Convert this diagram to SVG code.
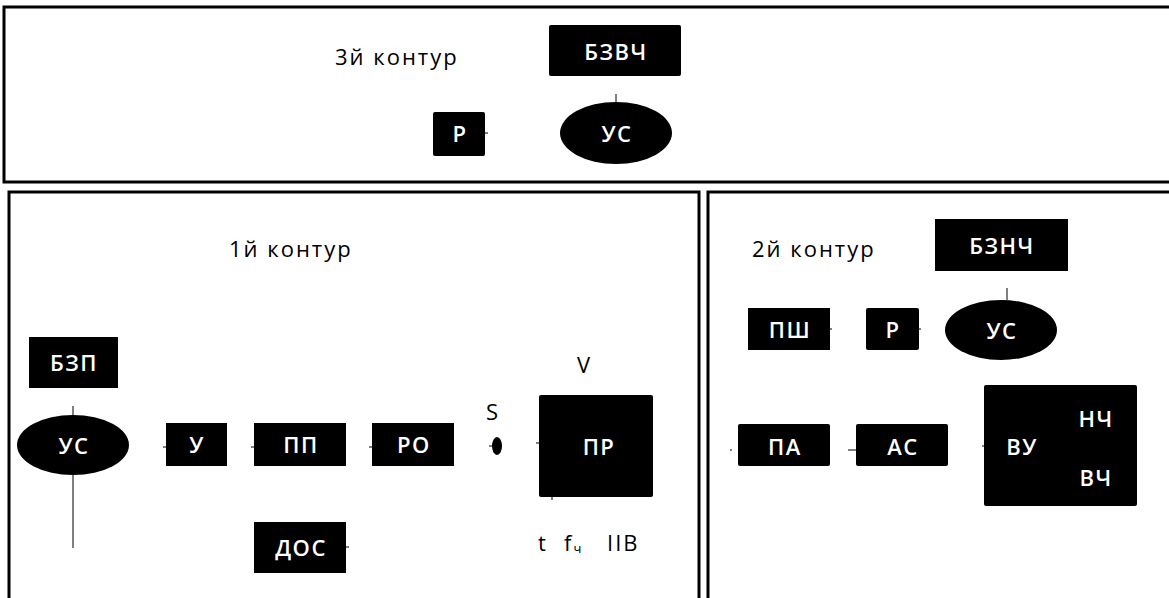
<svg xmlns="http://www.w3.org/2000/svg" width="1169" height="598" viewBox="0 0 1169 598">
<style>
.panel{fill:none;stroke:#000;stroke-width:3}
.blk{fill:#000}
.lbl{font-family:"Open Sans","DejaVu Sans",sans-serif;font-size:22px;font-weight:600;letter-spacing:1.5px;fill:#fff;text-anchor:middle;dominant-baseline:central}
.cap{font-family:"Open Sans","DejaVu Sans",sans-serif;font-size:22px;letter-spacing:2px;fill:#000;dominant-baseline:central}
.con{stroke:#000;stroke-width:1;fill:none}
</style>
<rect width="1169" height="598" fill="#fff"/>
<g id="panels">
<rect class="panel" x="4" y="7" width="1180" height="175"/>
<rect class="panel" x="9" y="192" width="690" height="420"/>
<rect class="panel" x="708" y="192" width="480" height="420"/>
</g>
<g id="captions">
<text class="cap" x="335" y="56" font-size="23">3й контур</text>
<text class="cap" x="229" y="248">1й контур</text>
<text class="cap" x="752" y="248">2й контур</text>
<text class="cap" x="577" y="364">V</text>
<text class="cap" x="486" y="411">S</text>
<text class="cap" x="538" y="542">t</text>
<text class="cap" x="564" y="542">f<tspan font-size="13" dy="6">ч</tspan></text>
<text class="cap" x="607" y="542">IIB</text>
</g>
<g id="connectors">
<line class="con" x1="616" y1="94" x2="616" y2="102"/>
<line class="con" x1="485" y1="133" x2="488" y2="133"/>
<line class="con" x1="73" y1="406" x2="73" y2="415"/>
<line class="con" x1="73" y1="475" x2="73" y2="548"/>
<line class="con" x1="163" y1="447" x2="166" y2="447"/>
<line class="con" x1="251" y1="447" x2="254" y2="447"/>
<line class="con" x1="369" y1="447" x2="372" y2="447"/>
<line class="con" x1="489" y1="446" x2="492" y2="446"/>
<line class="con" x1="536" y1="443" x2="539" y2="443"/>
<line class="con" x1="552" y1="497" x2="552" y2="500"/>
<line class="con" x1="346" y1="547" x2="349" y2="547"/>
<line class="con" x1="1007" y1="288" x2="1007" y2="300"/>
<line class="con" x1="830" y1="329" x2="832" y2="329"/>
<line class="con" x1="919" y1="329" x2="921" y2="329"/>
<line class="con" x1="730" y1="450" x2="732" y2="450"/>
<line class="con" x1="848" y1="450" x2="856" y2="450"/>
<line class="con" x1="982" y1="446" x2="984" y2="446"/>
</g>
<g id="n-bzvch"><rect class="blk" x="549" y="25" width="132" height="51" rx="2"/><text class="lbl" x="616" y="51">БЗВЧ</text></g>
<g id="n-r3"><rect class="blk" x="433" y="112" width="52" height="44" rx="2"/><text class="lbl" x="460" y="133">Р</text></g>
<g id="n-us3"><ellipse class="blk" cx="616" cy="133" rx="56" ry="31"/><text class="lbl" x="617" y="133">УС</text></g>
<g id="n-bzp"><rect class="blk" x="29" y="337" width="89" height="51"/><text class="lbl" x="74" y="362">БЗП</text></g>
<g id="n-us1"><ellipse class="blk" cx="73" cy="445" rx="56" ry="30"/><text class="lbl" x="74" y="445">УС</text></g>
<g id="n-u"><rect class="blk" x="166" y="423" width="61" height="43"/><text class="lbl" x="197" y="444">У</text></g>
<g id="n-pp"><rect class="blk" x="254" y="423" width="92" height="43"/><text class="lbl" x="301" y="444">ПП</text></g>
<g id="n-ro"><rect class="blk" x="372" y="423" width="82" height="43"/><text class="lbl" x="414" y="444">РО</text></g>
<g id="n-s"><ellipse class="blk" cx="497" cy="446" rx="5" ry="9"/></g>
<g id="n-pr"><rect class="blk" x="539" y="395" width="114" height="102" rx="2"/><text class="lbl" x="599" y="446">ПР</text></g>
<g id="n-dos"><rect class="blk" x="254" y="522" width="92" height="51"/><text class="lbl" x="301" y="547">ДОС</text></g>
<g id="n-bznch"><rect class="blk" x="935" y="219" width="133" height="52"/><text class="lbl" x="1002" y="245">БЗНЧ</text></g>
<g id="n-psh"><rect class="blk" x="748" y="308" width="82" height="42"/><text class="lbl" x="790" y="329">ПШ</text></g>
<g id="n-r2"><rect class="blk" x="866" y="308" width="53" height="42" rx="2"/><text class="lbl" x="893" y="329">Р</text></g>
<g id="n-us2"><ellipse class="blk" cx="1001" cy="330" rx="56" ry="30"/><text class="lbl" x="1002" y="330">УС</text></g>
<g id="n-pa"><rect class="blk" x="738" y="424" width="92" height="42" rx="2"/><text class="lbl" x="785" y="446">ПА</text></g>
<g id="n-as"><rect class="blk" x="856" y="424" width="92" height="42" rx="2"/><text class="lbl" x="903" y="446">АС</text></g>
<g id="n-vu"><rect class="blk" x="984" y="385" width="153" height="121" rx="2"/><text class="lbl" x="1022" y="446">ВУ</text><text class="lbl" x="1096" y="418">НЧ</text><text class="lbl" x="1096" y="477">ВЧ</text></g>
</svg>
